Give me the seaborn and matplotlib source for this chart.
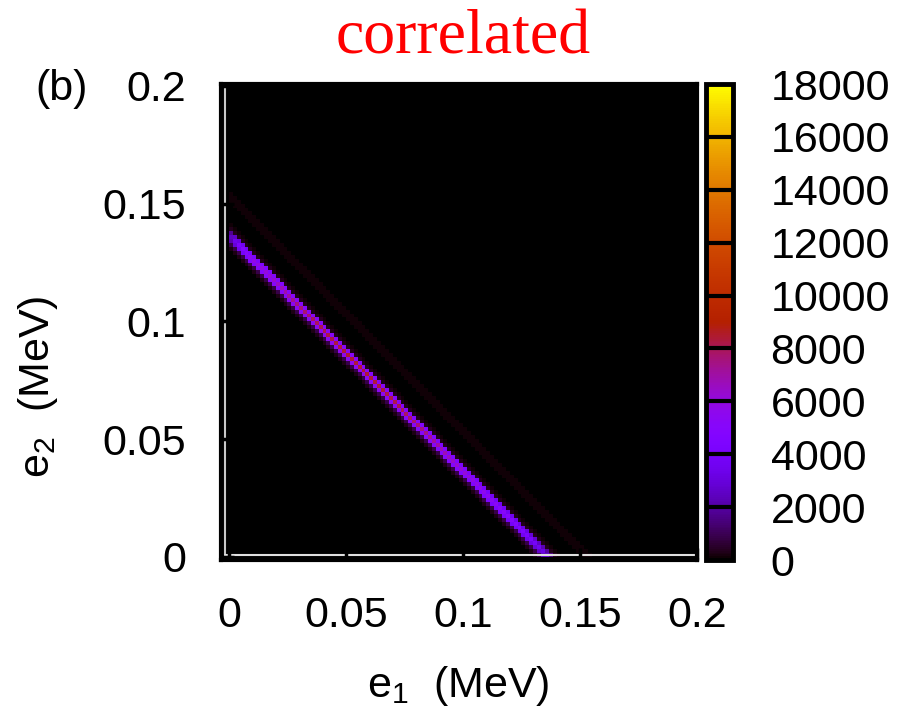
import numpy as np
import matplotlib
matplotlib.use("Agg")
import matplotlib.pyplot as plt
from matplotlib.colors import ListedColormap
import seaborn as sns

# histogram binning (0.2 MeV split in 120 bins)
n_bins = 120
e_max = 0.2

# counts along the bright band e1+e2 = Q; list index = e1 bin
center_diag = [2500, 3500, 4300, 4800, 5200, 5500, 5700, 5900, 6000, 6100,
               6200, 6300, 6500, 6700, 6900, 7100, 7300, 7500, 7600, 7700,
               7800, 7900, 8000, 8100, 8100, 8200, 8200, 8300, 8300, 8300,
               8400, 8400, 8400, 8400, 8400, 8400, 8400, 8300, 8300, 8300,
               8200, 8200, 8100, 8100, 8000, 7900, 7800, 7700, 7600, 7500,
               7400, 7300, 7100, 7000, 6800, 6700, 6500, 6400, 6300, 6200,
               6100, 6000, 5900, 5800, 5700, 5600, 5500, 5400, 5300, 5200,
               5100, 5000, 4900, 4800, 4700, 4500, 4300, 4100, 3900, 3600,
               3200, 2600]
upper_diag = [1800, 2600, 3200, 3700, 4000, 4200, 4400, 4500, 4600, 4700,
              4700, 4800, 4800, 4900, 4900, 5000, 5000, 5000, 5100, 5100,
              5100, 5100, 5200, 5200, 5200, 5200, 5200, 5200, 5200, 5200,
              5200, 5200, 5200, 5200, 5200, 5100, 5100, 5100, 5100, 5100,
              5000, 5000, 5000, 5000, 4900, 4900, 4900, 4800, 4800, 4800,
              4700, 4700, 4700, 4600, 4600, 4600, 4500, 4500, 4500, 4400,
              4400, 4300, 4300, 4200, 4200, 4100, 4100, 4000, 3900, 3900,
              3800, 3700, 3600, 3500, 3400, 3300, 3200, 3000, 2800, 2600,
              2300, 2000, 1600]
lower_diag = [2200, 3000, 3600, 4000, 4300, 4500, 4700, 4800, 4900, 5000,
              5000, 5100, 5100, 5200, 5200, 5300, 5300, 5300, 5400, 5400,
              5400, 5400, 5500, 5500, 5500, 5500, 5500, 5500, 5500, 5500,
              5500, 5500, 5500, 5500, 5500, 5400, 5400, 5400, 5400, 5400,
              5300, 5300, 5300, 5300, 5200, 5200, 5200, 5100, 5100, 5100,
              5000, 5000, 5000, 4900, 4900, 4900, 4800, 4800, 4800, 4700,
              4700, 4600, 4600, 4500, 4500, 4400, 4400, 4300, 4200, 4200,
              4100, 4000, 3900, 3800, 3700, 3600, 3400, 3200, 3000, 2800,
              2500]
center_k = 81
upper_k = 82
lower_k = 80

# faint side diagonals: (i+j index, counts)
side_k = [78, 79, 83, 84, 88, 89, 90, 91, 92, 93]
side_counts = [250, 900, 300, 80, 30, 60, 90, 100, 80, 40]

tick_vals = [0, 0.05, 0.1, 0.15, 0.2]
tick_labels = ["0", "0.05", "0.1", "0.15", "0.2"]
cbar_ticks = list(range(0, 18001, 2000))

# build the histogram
Z = np.zeros((n_bins, n_bins))
for k, c in zip(side_k, side_counts):
    for i in range(k + 1):
        Z[k - i, i] = c
for k, vals in [(upper_k, upper_diag), (lower_k, lower_diag), (center_k, center_diag)]:
    for i, c in enumerate(vals):
        Z[k - i, i] = c

# gnuplot default pm3d palette (rgbformulae 7,5,15)
x = np.linspace(0, 1, 256)
rgb = np.column_stack([np.sqrt(x), x ** 3, np.clip(np.sin(2 * np.pi * x), 0, 1)])
cmap = ListedColormap(rgb)

sns.set_style("white")
plt.rcParams['font.family'] = ['Liberation Sans', 'DejaVu Sans']
plt.rcParams['text.color'] = 'black'
plt.rcParams['xtick.color'] = 'black'
plt.rcParams['ytick.color'] = 'black'
plt.rcParams['axes.labelcolor'] = 'black'

fig = plt.figure(figsize=(9.02, 7.09), dpi=100)
ax = fig.add_axes([221 / 902, 1 - 560 / 709, 476 / 902, 476 / 709])
cax = fig.add_axes([706 / 902, 1 - 560 / 709, 27 / 902, 476 / 709])

sns.heatmap(Z, cmap=cmap, vmin=0, vmax=18000, ax=ax, cbar_ax=cax,
            xticklabels=False, yticklabels=False)

w = e_max / n_bins
ax.set_facecolor("black")
ax.set_xlim(-0.0034 / w, 0.1987 / w)
ax.set_ylim(-0.0013 / w, 0.2008 / w)
ax.set_xticks([v / w for v in tick_vals])
ax.set_xticklabels(tick_labels)
ax.set_yticks([v / w for v in tick_vals])
ax.set_yticklabels(tick_labels)
ax.set_axisbelow(False)
ax.tick_params(direction="in", length=9, width=2.5, color="black",
               labelsize=31, labelcolor="black", bottom=True, left=True)
ax.tick_params(axis="x", pad=26)
ax.tick_params(axis="y", pad=25)
for s in ax.spines.values():
    s.set_visible(True)
    s.set_color("black")
    s.set_linewidth(3)

# light inner frame lines of the gnuplot border
ax.plot([0.009, 0.009], [0.01, 0.992], transform=ax.transAxes,
        color="#c8c8c8", lw=1.5, zorder=2)
ax.plot([0.009, 0.995], [0.01, 0.01], transform=ax.transAxes,
        color="#e0e0e0", lw=1.5, zorder=2)

cb = ax.collections[0].colorbar
cb.set_ticks(cbar_ticks)
cb.outline.set_linewidth(3.5)
cb.outline.set_edgecolor("black")
cax.tick_params(length=0, labelsize=31, pad=27, labelcolor="black")
for v in cbar_ticks[1:-1]:
    cax.axhline(v, color="black", lw=3)

fig.text(463 / 902, 1 - 54 / 709, "correlated", color="red", ha="center",
         va="baseline", fontsize=46, family=["Liberation Serif"])
fig.text(458 / 902, 1 - 697 / 709, r"$\mathregular{e_1}$  (MeV)", ha="center",
         va="baseline", fontsize=31)
fig.text(38 / 902, 322 / 709, r"$\mathregular{e_2}$  (MeV)", ha="center",
         va="center", rotation=90, fontsize=31)
fig.text(35 / 902, 1 - 100 / 709, "(b)", ha="left", va="baseline", fontsize=31)

fig.savefig("out.png", dpi=100)
